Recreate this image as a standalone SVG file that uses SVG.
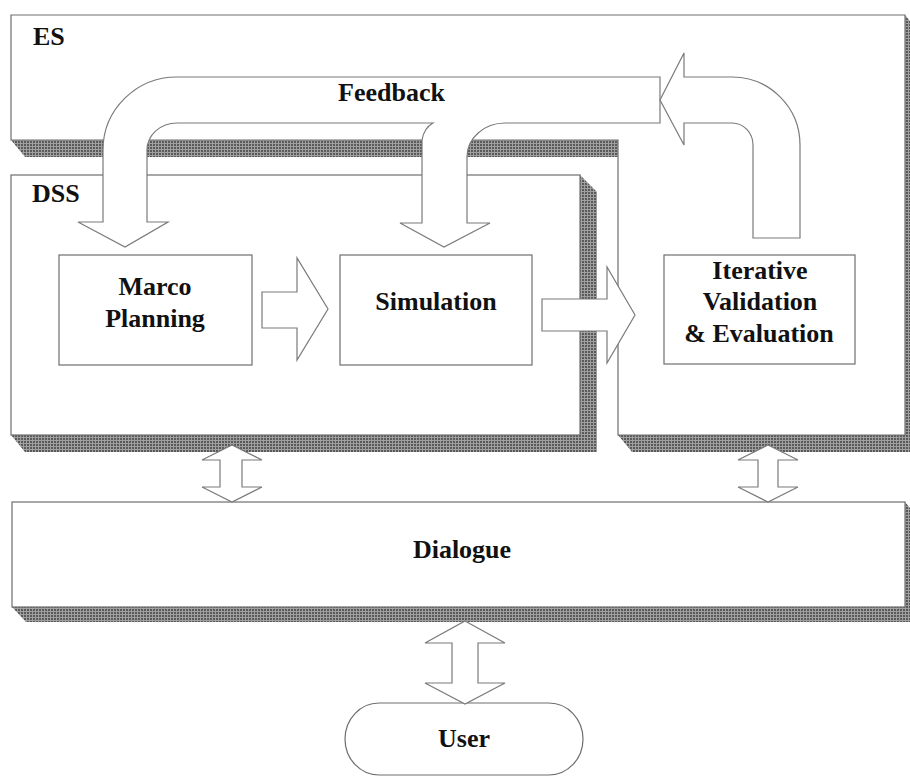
<svg xmlns="http://www.w3.org/2000/svg" width="910" height="780" viewBox="0 0 910 780">
  <defs>
    <!-- halftone fill used for the extruded box edges -->
    <pattern id="halftone" width="3" height="3" patternUnits="userSpaceOnUse">
      <rect width="3" height="3" fill="#a0a0a0"/>
      <rect width="2" height="2" fill="#5a5a5a"/>
    </pattern>
    <style>
      .box { fill: #ffffff; stroke: #6e6e6e; stroke-width: 1.2; }
      .shade { fill: url(#halftone); stroke: none; }
      .arrow { fill: #ffffff; stroke: #7a7a7a; stroke-width: 1.2; stroke-linejoin: miter; }
      .lbl { font-family: "Liberation Serif", "Times New Roman", serif; font-weight: bold; font-size: 26px; fill: #111111; }
      .mid { text-anchor: middle; }
    </style>
  </defs>

  <rect width="910" height="780" fill="#ffffff"/>

  <!-- Expert system frame: top bar plus right-hand leg -->
  <g id="es">
    <polygon class="shade" points="11,140 618,140 618,157 25,157"/>
    <polygon class="shade" points="905,15 910,21 910,452 632,452 618,435 905,435"/>
    <polygon class="box" points="11,15 905,15 905,435 618,435 618,140 11,140"/>
    <text class="lbl" x="33" y="45">ES</text>
  </g>

  <!-- Decision support system frame -->
  <g id="dss">
    <polygon class="shade" points="580,175 597,192 597,452 25,452 11,435 580,435"/>
    <rect class="box" x="11" y="175" width="569" height="260"/>
    <text class="lbl" x="32" y="202">DSS</text>
  </g>

  <g id="marco-planning">
    <rect class="box" x="59" y="255" width="193" height="110"/>
    <text class="lbl mid" x="155" y="295">Marco</text>
    <text class="lbl mid" x="155" y="327">Planning</text>
  </g>

  <g id="simulation">
    <rect class="box" x="340" y="255" width="192" height="110"/>
    <text class="lbl mid" x="436" y="310">Simulation</text>
  </g>

  <g id="iterative-validation">
    <rect class="box" x="664" y="255" width="191" height="109"/>
    <text class="lbl mid" x="760" y="279">Iterative</text>
    <text class="lbl mid" x="760" y="310">Validation</text>
    <text class="lbl mid" x="759" y="342">&amp; Evaluation</text>
  </g>

  <!-- Dialogue layer -->
  <g id="dialogue">
    <polygon class="shade" points="905,502 910,508 910,622 26,622 12,607 905,607"/>
    <rect class="box" x="12" y="502" width="893" height="105"/>
    <text class="lbl mid" x="462" y="558">Dialogue</text>
  </g>

  <g id="user">
    <rect class="box" x="345" y="703" width="238" height="72" rx="34" ry="36"/>
    <text class="lbl mid" x="464" y="747">User</text>
  </g>

  <g id="connectors">
    <!-- feedback band from the top bar down into Marco Planning and Simulation -->
    <path class="arrow" d="M177 77 L660 77 L660 123 L505 123 A38 34 0 0 0 467 157 L467 223 L490 223 L444 247 L400 223 L422 223 L422 140 Q424 128 433 123 L177 123 A30 27 0 0 0 147 150 L147 222 L168 222 L125 247 L78 222 L103 222 L103 150 A74 73 0 0 1 177 77 Z"/>
    <text class="lbl" x="338" y="101">Feedback</text>

    <!-- feedback arrow rising out of Iterative Validation & Evaluation -->
    <path class="arrow" d="M753 238 L800 238 L800 145 A68 68 0 0 0 732 77 L684 77 L684 53 L660 100 L684 145 L684 123 L732 123 A21 22 0 0 1 753 145 Z"/>

    <!-- Marco Planning to Simulation -->
    <polygon class="arrow" points="262,292 297,292 297,258 328,309 297,360 297,328 262,328"/>

    <!-- Simulation to Iterative Validation & Evaluation -->
    <polygon class="arrow" points="542,299 607,299 607,267 635,315 607,363 607,331 542,331"/>

    <!-- DSS <-> Dialogue -->
    <polygon class="arrow" points="232,445 262,460 242,460 242,487 262,487 232,502 202,487 220,487 220,460 202,460"/>

    <!-- ES <-> Dialogue -->
    <polygon class="arrow" points="768,445 798,460 778,460 778,487 798,487 768,502 738,487 758,487 758,460 738,460"/>

    <!-- User <-> Dialogue -->
    <polygon class="arrow" points="465,621 505,643 478,643 478,683 505,683 465,704 425,683 452,683 452,643 425,643"/>
  </g>
</svg>
